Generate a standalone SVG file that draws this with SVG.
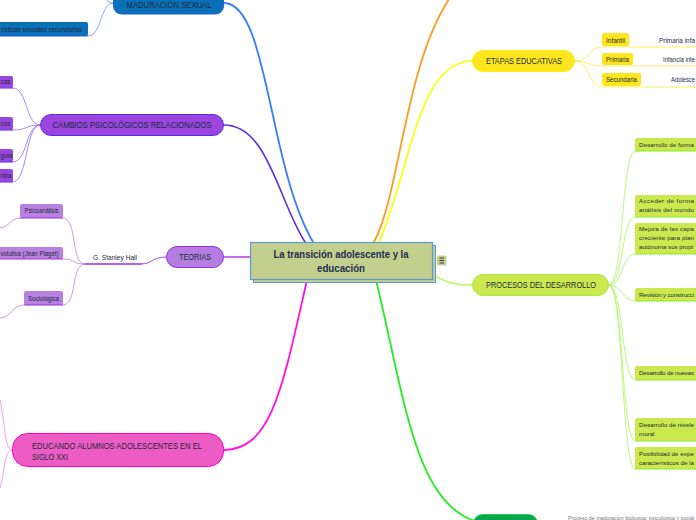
<svg xmlns="http://www.w3.org/2000/svg" width="696" height="520" viewBox="0 0 696 520">
<style>
text{font-family:"Liberation Sans",Arial,sans-serif;fill:#1c2a3a}
.c{fill:none;stroke-linecap:round}
.t{font-size:8.5px;text-anchor:middle}
.s{font-size:6.3px}
.g{font-size:6.2px}
</style>
<rect width="696" height="520" fill="#ffffff"/>
<g id="connectors">
<path class="c" d="M224,3 C268,3 268,165 313,242" stroke="#3a7bff" stroke-width="1.8"/>
<path class="c" d="M224,125 C268,125 278,200 305,242" stroke="#5a2ee8" stroke-width="1.6"/>
<path class="c" d="M374,242 C400,195 405,60 452,-5" stroke="#ff9a1f" stroke-width="1.8"/>
<path class="c" d="M379,242 C412,165 418,61 472,61" stroke="#ffff00" stroke-width="1.6"/>
<path class="c" d="M433,275 C450,284 458,285 472,285" stroke="#a0ff40" stroke-width="1.3"/>
<path class="c" d="M376,280 C405,400 415,505 478,522" stroke="#22ee22" stroke-width="1.8"/>
<path class="c" d="M307,280 C283,385 272,450 224,450" stroke="#ff10e0" stroke-width="1.8"/>
<path class="c" d="M252,257 L224,257" stroke="#b040e0" stroke-width="1.4"/>
<path class="c" d="M113,3 C100,3 102,36 88,36" stroke="#6a90ff" stroke-width="0.8"/>
<path class="c" d="M113,3 C105,3 104,-5 97,-15" stroke="#6a90ff" stroke-width="0.8"/>
<g stroke="#8a6cf0" stroke-width="0.8">
<path class="c" d="M40,125 C25,125 28,88 13,88"/>
<path class="c" d="M40,125 C25,125 28,130 13,130"/>
<path class="c" d="M40,125 C25,125 28,162 13,162"/>
<path class="c" d="M40,125 C25,125 28,182 13,182"/>
</g>
<path class="c" d="M166,257 C152,257 152,264 141,264" stroke="#b040e0" stroke-width="1"/>
<path class="c" d="M85,264 L141,264" stroke="#9d2ee0" stroke-width="1.3"/>
<g stroke="#c080e0" stroke-width="0.8">
<path class="c" d="M85,264 C70,264 78,218 63,218"/>
<path class="c" d="M85,264 C70,264 78,259 63,259"/>
<path class="c" d="M85,264 C70,264 78,305 63,305"/>
<path class="c" d="M20,218 C10,218 10,227 0,228"/>
<path class="c" d="M24,305 C12,305 12,317 0,318"/>
</g>
<g stroke="#ff80e8" stroke-width="0.8">
<path class="c" d="M12,450 C4,450 5,420 0,400"/>
<path class="c" d="M12,450 C4,450 5,472 0,488"/>
</g>
<g stroke="#ffe840" stroke-width="0.8">
<path class="c" d="M575,61 C590,61 588,47 602,47 L696,47"/>
<path class="c" d="M575,61 C590,61 588,66 602,66 L696,66"/>
<path class="c" d="M575,61 C590,61 588,87 602,87 L696,87"/>
</g>
<g stroke="#a8f860" stroke-width="0.8">
<path class="c" d="M609,285 C624,285 621,151 635,151"/>
<path class="c" d="M609,285 C624,285 621,217 635,217"/>
<path class="c" d="M609,285 C624,285 621,254 635,254"/>
<path class="c" d="M609,285 C624,285 621,301 635,301"/>
<path class="c" d="M609,285 C624,285 621,380 635,380"/>
<path class="c" d="M609,285 C624,285 621,441 635,441"/>
<path class="c" d="M609,285 C624,285 621,469 635,469"/>
</g>
</g>
<g id="center">
<rect x="253.5" y="245.5" width="182" height="37" fill="#c3cf8c" stroke="#5b9bd5" stroke-width="1"/>
<rect x="250.5" y="242.5" width="182" height="37" fill="#c3cf8c" stroke="#5b9bd5" stroke-width="1.2"/>
<text x="341" y="258" font-size="11" font-weight="bold" text-anchor="middle" textLength="135" lengthAdjust="spacingAndGlyphs" style="fill:#1f2d52">La transición adolescente y la</text>
<text x="341" y="272" font-size="11" font-weight="bold" text-anchor="middle" textLength="48" lengthAdjust="spacingAndGlyphs" style="fill:#1f2d52">educación</text>
<rect x="437" y="255.5" width="9.5" height="10" rx="1.5" fill="#c3cf8c"/>
<path d="M439.5,258 h4.5 M439.5,260.5 h4.5 M439.5,263 h4.5" stroke="#1f2d52" stroke-width="0.9"/>
</g>
<g id="maduracion">
<rect x="113.5" y="-10" width="110" height="24" rx="8" fill="#0a70b8" stroke="#1e62d0" stroke-width="1"/>
<text class="t" x="169" y="7.5" textLength="85" lengthAdjust="spacingAndGlyphs">MADURACIÓN SEXUAL</text>
</g>
<g id="caracteristicas">
<rect x="-5" y="22" width="93" height="14" rx="2" fill="#0a70b8"/>
<path d="M-5,36 H88" stroke="#2255dd" stroke-width="1.2"/>
<text class="s" x="1" y="32" textLength="81" lengthAdjust="spacingAndGlyphs">rísticas sexuales  secundarias</text>
</g>
<g id="cambios">
<rect x="40.5" y="114.5" width="183" height="21" rx="10.5" fill="#9a45de" stroke="#5a2ee8" stroke-width="1"/>
<text class="t" x="132" y="128" textLength="159" lengthAdjust="spacingAndGlyphs">CAMBIOS PSICOLÓGICOS RELACIONADOS</text>
</g>
<g id="cambio1"><rect x="-5" y="76" width="18" height="12" rx="2" fill="#9a45de"/><path d="M-5,88 H13" stroke="#6a40f0" stroke-width="1.2"/><text class="s" x="0.5" y="84">cas</text></g>
<g id="cambio2"><rect x="-5" y="117" width="18" height="13" rx="2" fill="#9a45de"/><path d="M-5,130 H13" stroke="#6a40f0" stroke-width="1.2"/><text class="s" x="0.5" y="126">cos</text></g>
<g id="cambio3"><rect x="-5" y="149" width="18" height="13" rx="2" fill="#9a45de"/><path d="M-5,162 H13" stroke="#6a40f0" stroke-width="1.2"/><text class="s" x="0.5" y="158">guia</text></g>
<g id="cambio4"><rect x="-5" y="169" width="18" height="13" rx="2" fill="#9a45de"/><path d="M-5,182 H13" stroke="#6a40f0" stroke-width="1.2"/><text class="s" x="0.5" y="178">rdía</text></g>
<g id="teorias">
<rect x="166.5" y="246.5" width="57" height="21" rx="10.5" fill="#b47ee0" stroke="#9d2ee0" stroke-width="1"/>
<text class="t" x="195" y="260" textLength="32" lengthAdjust="spacingAndGlyphs">TEORIAS</text>
</g>
<g id="stanley">
<text class="s" x="115" y="260" text-anchor="middle" textLength="44" lengthAdjust="spacingAndGlyphs">G. Stanley Hall</text>
</g>
<g id="psicoanalisis"><rect x="20" y="204" width="43" height="14" rx="2" fill="#b880e0"/><path d="M20,218 H63" stroke="#9a30e0" stroke-width="1.2"/><text class="s" x="41.5" y="213" text-anchor="middle" textLength="34" lengthAdjust="spacingAndGlyphs">Psicoanálisis</text></g>
<g id="evolutiva"><rect x="-5" y="247" width="68" height="12" rx="2" fill="#b880e0"/><path d="M-5,259 H63" stroke="#9a30e0" stroke-width="1.2"/><text class="s" x="0.5" y="255.5" textLength="58" lengthAdjust="spacingAndGlyphs">volutiva (Jean Piaget)</text></g>
<g id="sociologica"><rect x="24" y="291" width="39" height="14" rx="2" fill="#b880e0"/><path d="M24,305 H63" stroke="#9a30e0" stroke-width="1.2"/><text class="s" x="43.5" y="300.5" text-anchor="middle" textLength="31" lengthAdjust="spacingAndGlyphs">Sociológica</text></g>
<g id="educando">
<rect x="12.5" y="433.5" width="211" height="33" rx="15" fill="#ec5cc4" stroke="#ff00d0" stroke-width="1"/>
<text x="32" y="449" font-size="8.5" textLength="170" lengthAdjust="spacingAndGlyphs">EDUCANDO ALUMNOS ADOLESCENTES EN EL</text>
<text x="32" y="460" font-size="8.5" textLength="36" lengthAdjust="spacingAndGlyphs">SIGLO XXI</text>
</g>
<g id="etapas">
<rect x="472.5" y="50.5" width="102" height="21" rx="10.5" fill="#fde61f" stroke="#fff000" stroke-width="1"/>
<text class="t" x="524" y="64" textLength="76" lengthAdjust="spacingAndGlyphs">ETAPAS EDUCATIVAS</text>
</g>
<g id="infantil"><rect x="602" y="33" width="27" height="13" rx="2" fill="#fde61f"/><text class="s" x="615.5" y="42.5" text-anchor="middle" textLength="19" lengthAdjust="spacingAndGlyphs">Infantil</text><text class="s" x="659" y="42.5" textLength="36" lengthAdjust="spacingAndGlyphs">Primaria infa</text></g>
<g id="primaria"><rect x="602" y="53" width="31" height="12" rx="2" fill="#fde61f"/><text class="s" x="617.5" y="62" text-anchor="middle" textLength="23" lengthAdjust="spacingAndGlyphs">Primaria</text><text class="s" x="663" y="62" textLength="32" lengthAdjust="spacingAndGlyphs">Infancia inte</text></g>
<g id="secundaria"><rect x="602" y="73" width="39" height="13" rx="2" fill="#fde61f"/><text class="s" x="621.5" y="82" text-anchor="middle" textLength="31" lengthAdjust="spacingAndGlyphs">Secundaria</text><text class="s" x="671" y="82" textLength="24" lengthAdjust="spacingAndGlyphs">Adolesce</text></g>
<g id="procesos">
<rect x="472.5" y="274.5" width="136" height="21" rx="10.5" fill="#cbe84f" stroke="#a0f040" stroke-width="1"/>
<text class="t" x="541" y="288" textLength="110" lengthAdjust="spacingAndGlyphs">PROCESOS DEL DESARROLLO</text>
</g>
<g id="p1"><rect x="635" y="138" width="70" height="13" rx="2" fill="#cbe84f"/><path d="M635,151 H700" stroke="#88ee22" stroke-width="1.2"/><text class="g" x="639" y="147" textLength="55">Desarrollo de forma</text></g>
<g id="p2"><rect x="635" y="195" width="70" height="22" rx="2" fill="#cbe84f"/><path d="M635,217 H700" stroke="#88ee22" stroke-width="1.2"/><text class="g" x="639" y="203" textLength="55">Acceder de forma</text><text class="g" x="639" y="212" textLength="55">análisis del mundo</text></g>
<g id="p3"><rect x="635" y="223" width="70" height="31" rx="2" fill="#cbe84f"/><path d="M635,254 H700" stroke="#88ee22" stroke-width="1.2"/><text class="g" x="639" y="231" textLength="55">Mejora de las capa</text><text class="g" x="639" y="240" textLength="55">creciente para plan</text><text class="g" x="639" y="249" textLength="54">autónoma sus propi</text></g>
<g id="p4"><rect x="635" y="288" width="70" height="13" rx="2" fill="#cbe84f"/><path d="M635,301 H700" stroke="#88ee22" stroke-width="1.2"/><text class="g" x="639" y="297" textLength="55">Revisión y construcci</text></g>
<g id="p5"><rect x="635" y="366" width="70" height="14" rx="2" fill="#cbe84f"/><path d="M635,380 H700" stroke="#88ee22" stroke-width="1.2"/><text class="g" x="639" y="375" textLength="55">Desarrollo de nuevas</text></g>
<g id="p6"><rect x="635" y="418" width="70" height="23" rx="2" fill="#cbe84f"/><path d="M635,441 H700" stroke="#88ee22" stroke-width="1.2"/><text class="g" x="639" y="427" textLength="55">Desarrollo de nivele</text><text class="g" x="639" y="436">moral</text></g>
<g id="p7"><rect x="635" y="447" width="70" height="22" rx="2" fill="#cbe84f"/><path d="M635,469 H700" stroke="#88ee22" stroke-width="1.2"/><text class="g" x="639" y="456" textLength="55">Posibilidad de expe</text><text class="g" x="639" y="465" textLength="55">característicos de la</text></g>
<g id="bottomnode">
<rect x="473.5" y="514.5" width="64" height="20" rx="9" fill="#0aa84a" stroke="#22cc55" stroke-width="1"/>
<text x="568" y="519.5" font-size="4.5" textLength="126" lengthAdjust="spacingAndGlyphs" style="fill:#777">Proceso de maduración biológica, psicológica y social</text>
</g>
</svg>
